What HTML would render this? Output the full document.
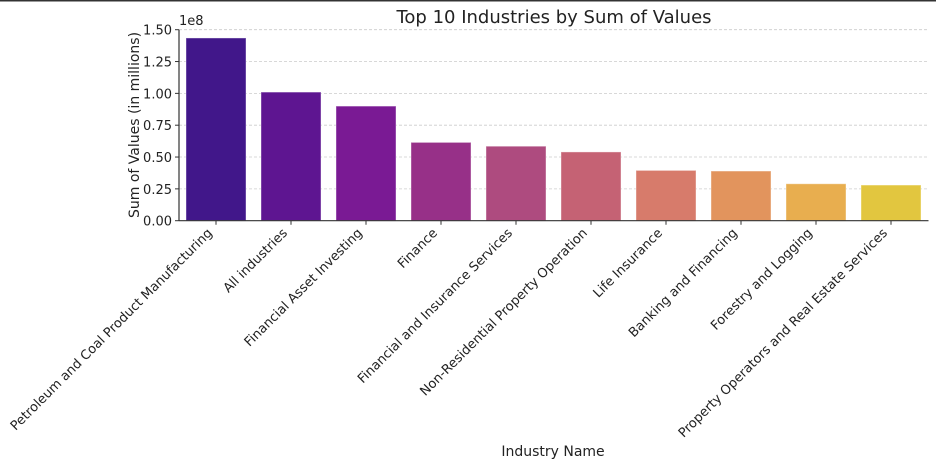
<!DOCTYPE html>
<html><head><meta charset="utf-8"><style>
body{margin:0;background:#fff;}
svg{display:block;font-family:"DejaVu Sans","Liberation Sans",sans-serif;}
</style></head><body>
<svg id="chart" width="936" height="464">
<rect x="0" y="0" width="936" height="1.5" fill="#333"/>
<text x="554" y="23" font-size="18" text-anchor="middle" fill="#222">Top 10 Industries by Sum of Values</text>
<text x="179" y="25" font-size="13" fill="#222">1e8</text>
<text transform="translate(139,125) rotate(-90)" font-size="14" text-anchor="middle" fill="#222">Sum of Values (in millions)</text>
<text x="553" y="456" font-size="14" text-anchor="middle" fill="#222">Industry Name</text>
<g id="grid"></g><g id="bars"></g><g id="axes"></g>
</svg>
<script>
const categories=["Petroleum and Coal Product Manufacturing","All industries","Financial Asset Investing","Finance","Financial and Insurance Services","Non-Residential Property Operation","Life Insurance","Banking and Financing","Forestry and Logging","Property Operators and Real Estate Services"];
const values=[1.435,1.01,0.90,0.615,0.585,0.54,0.395,0.39,0.29,0.28];
const colors=["#41178a","#5e1591","#7a1a94","#973088","#ae4b7f","#c56274","#d77b6b","#e2945d","#e8ae4f","#e2c63f"];
const yTicks=[0,0.25,0.5,0.75,1.0,1.25,1.5];
const yTickLabels=["0.00","0.25","0.50","0.75","1.00","1.25","1.50"];
const NS="http://www.w3.org/2000/svg";
const x0=178.5,x1=928.5,yTop=29.7,yBot=220.7,yMax=1.5;
const band=(x1-x0)/categories.length;
const y=v=>yBot-(v/yMax)*(yBot-yTop);
const xc=i=>x0+band*(i+0.5);
function mk(tag,attrs,parent){const e=document.createElementNS(NS,tag);for(const k in attrs)e.setAttribute(k,attrs[k]);parent.appendChild(e);return e;}
const grid=document.getElementById('grid'),bars=document.getElementById('bars'),axes=document.getElementById('axes');
yTicks.forEach((t,i)=>{
  if(t>0){const g=mk('line',{x1:179,x2:x1,y1:y(t),y2:y(t),stroke:'#ccc','stroke-dasharray':'3,2','stroke-width':0.8},grid);
  
  }
  const tk=mk('line',{x1:175,x2:179,y1:y(t),y2:y(t),stroke:'#333'},axes);
  
  
  const l=mk('text',{x:172,y:y(t)+5,'font-size':13,'text-anchor':'end',fill:'#222'},axes);
  l.textContent=yTickLabels[i];
  
  
});
categories.forEach((c,i)=>{
  const w=60;
  const r=mk('rect',{x:xc(i)-w/2,y:y(values[i]),width:w,height:yBot-y(values[i]),fill:colors[i],stroke:'rgba(255,255,255,0.4)','stroke-width':1},bars);
  
  
  const tk=mk('line',{x1:xc(i),x2:xc(i),y1:yBot,y2:yBot+4,stroke:'#333'},axes);
  
  
  const l=mk('text',{transform:`translate(${xc(i)-3},${yBot+13}) rotate(-45)`,'font-size':13,'text-anchor':'end',fill:'#222'},axes);
  l.textContent=c;
  
  
});
const ya=mk('line',{x1:179,x2:179,y1:yTop,y2:yBot,stroke:'#333','stroke-width':1.2},axes);


const xa=mk('line',{x1:179,x2:x1,y1:yBot,y2:yBot,stroke:'#333','stroke-width':1.2},axes);


</script>
</body></html>
